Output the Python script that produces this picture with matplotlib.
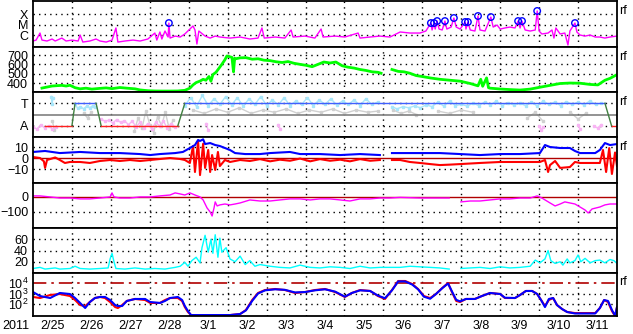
import matplotlib
matplotlib.use('Agg')
import matplotlib.pyplot as plt
import numpy as np

plt.rcParams['font.family'] = ['Liberation Sans', 'DejaVu Sans']
plt.rcParams['mathtext.default'] = 'regular'

# time axis: days since 2011-02-25 00:00 UT
day_labels = ['2/25', '2/26', '2/27', '2/28', '3/1', '3/2', '3/3', '3/4',
              '3/5', '3/6', '3/7', '3/8', '3/9', '3/10', '3/11']

# GOES X-ray flux (log10 W/m2)
xray_t = [0.00, 0.08, 0.18, 0.23, 0.36, 0.49, 0.57, 0.74, 0.85, 1.00, 1.16, 1.21, 1.28,
          1.46, 1.62, 1.72, 1.88, 2.03, 2.13, 2.18, 2.36, 2.57, 2.75, 2.95, 3.13, 3.18,
          3.26, 3.31, 3.39, 3.47, 3.49, 3.52, 3.65, 3.78, 3.90, 4.03, 4.11, 4.16, 4.21,
          4.26, 4.42, 4.55, 4.68, 4.80, 5.06, 5.32, 5.57, 5.78, 5.88, 5.94, 6.22, 6.47,
          6.63, 6.68, 6.99, 7.24, 7.40, 7.45, 7.76, 8.01, 8.35, 8.40, 8.66, 8.91, 9.17,
          9.43, 9.68, 9.94, 10.09, 10.22, 10.25, 10.30, 10.33, 10.38, 10.43, 10.51,
          10.58, 10.63, 10.74, 10.81, 10.87, 10.97, 11.10, 11.12, 11.17, 11.23, 11.35,
          11.43, 11.48, 11.61, 11.76, 11.82, 11.92, 12.00, 12.12, 12.25, 12.38, 12.46,
          12.51, 12.56, 12.64, 12.77, 12.90, 12.95, 13.00, 13.07, 13.23, 13.33, 13.38,
          13.43, 13.54, 13.66, 13.74, 13.79, 13.92, 13.97, 14.05, 14.18, 14.31, 14.44,
          14.56, 14.69, 14.82, 15.00]
xray_v = [-6.57, -6.48, -5.81, -6.48, -6.57, -6.38, -6.57, -6.29, -6.57, -6.48, -6.57, -6.00, -6.67,
          -6.57, -6.38, -6.57, -6.67, -6.48, -5.33, -6.67, -6.57, -6.48, -6.57, -6.38, -5.81, -6.48,
          -5.71, -6.38, -5.62, -6.19, -4.86, -6.29, -6.10, -6.19, -5.90, -5.43, -5.14, -5.52, -6.86,
          -5.62, -6.10, -6.29, -6.10, -6.19, -6.29, -6.19, -6.38, -6.29, -5.33, -6.29, -6.19, -6.29,
          -5.52, -6.19, -6.10, -6.29, -5.43, -6.19, -6.10, -6.19, -5.81, -6.29, -6.19, -6.10, -6.19,
          -5.71, -5.81, -5.81, -5.62, -4.86, -5.52, -4.86, -5.43, -4.67, -5.43, -5.52,
          -4.67, -5.43, -5.24, -4.38, -5.24, -5.43, -4.76, -5.43, -4.76, -5.52, -5.62,
          -4.19, -5.52, -5.62, -4.29, -5.24, -5.05, -5.43, -5.33, -5.24, -5.33, -4.67,
          -5.33, -4.67, -5.52, -5.62, -5.52, -3.71, -5.62, -5.90, -5.81, -5.52, -6.29,
          -5.33, -5.90, -5.81, -6.95, -5.62, -4.86, -5.71, -6.00, -6.10, -6.00, -6.19,
          -6.19, -6.29, -6.19, -6.10]

# flares >= M1 (circles)
flare_t = [3.49, 10.22, 10.30, 10.38, 10.58, 10.81, 11.10, 11.17, 11.43, 11.76, 12.46, 12.56, 12.95, 13.92]
flare_v = [-4.86, -4.86, -4.86, -4.67, -4.67, -4.38, -4.76, -4.76, -4.19, -4.29, -4.67, -4.67, -3.71, -4.86]

# solar wind speed (km/s)
vsw_t = [0.23, 0.36, 0.49, 0.62, 0.74, 0.85, 0.95, 1.08, 1.21, 1.36, 1.51, 1.72, 1.88, 2.03,
         2.23, 2.41, 2.62, 2.75, 2.95, 3.13, 3.31, 3.52, 3.72, 3.90, 4.03, 4.11, 4.19, 4.29,
         4.37, 4.44, 4.52, 4.57, 4.62, 4.70, 4.78, 4.85, 4.93, 4.98, 5.11, 5.15, 5.18, 5.21,
         5.32, 5.47, 5.63, 5.78, 5.93, 6.09, 6.24, 6.40, 6.55, 6.70, 6.86, 7.01, 7.17, 7.32,
         7.47, 7.63, 7.78, 7.94, 8.09, 8.25, 8.40, 8.55, 8.71, 8.86, 8.94, 9.00, 9.22, 9.38,
         9.53, 9.68, 9.84, 9.99, 10.20, 10.45, 10.71, 10.97, 11.23, 11.43, 11.50, 11.55,
         11.65, 11.70, 11.74, 12.00, 12.25, 12.51, 12.77, 13.02, 13.28, 13.54, 13.79, 14.05,
         14.31, 14.51, 14.69, 14.82, 15.00]
vsw_v = [346, 357, 368, 372, 375, 368, 376, 350, 338, 345, 335, 343, 348, 340,
         352, 345, 338, 326, 318, 315, 314, 314, 315, 322, 345, 380, 405, 421,
         440, 430, 470, 420, 490, 515, 560, 600, 650, 690, 675, 520, 665, 660,
         670, 672, 655, 660, 645, 640, 628, 620, 630, 612, 600, 590, 575, 600,
         625, 615, 625, 585, 570, 560, 545, 535, 520, 515, 505, np.nan, 545, 525,
         520, 505, 480, 470, 455, 440, 430, 420, 395, 370, 440, 365,
         455, 350, 345, 336, 330, 325, 335, 355, 375, 395, 400, 398,
         385, 380, 430, 450, 490]

# IMF sector (T = +1, A = -1)
sector_t = [0.31, 1.00, 1.08, 1.62, 1.75, 3.72, 3.90, 14.69, 14.86, 15.00]
sector_v = [-1, -1, 1, 1, -1, -1, 1, 1, -1, -1]
phi_t_blue = [0.47, 0.49, 0.51, np.nan, 1.08, 1.15, 1.22, 1.30, 1.38, 1.46, 1.54, 1.60, np.nan,
              3.90, 4.05, 4.20, 4.35, 4.50, 4.65, 4.80, 4.95, 5.10, 5.25, 5.40, 5.55, 5.70,
              5.85, 6.00, 6.15, 6.30, 6.45, 6.60, 6.75, 6.90, 7.05, 7.20, 7.35, 7.50, 7.65,
              7.80, 7.95, 8.10, 8.25, 8.40, 8.55, 8.70, 8.85, np.nan, 9.22, 9.35, 9.50, 9.65,
              9.80, 9.95, 10.10, 10.25, 10.40, 10.55, 10.70, 10.85, 11.00, 11.15, 11.30, 11.45,
              11.60, 11.75, 11.90, 12.05, 12.20, 12.35, 12.50, 12.65, 12.80, 12.95, 13.10,
              13.25, 13.40, 13.55, 13.70, 13.85, 14.00, 14.15, 14.30, 14.45, 14.60]
phi_v_blue = [1.6, 0.9, 1.5, np.nan, 0.9, 0.55, 0.7, 0.5, 0.75, 0.6, 0.8, 0.65, np.nan,
              0.8, 1.5, 0.7, 1.7, 0.8, 1.4, 0.9, 1.6, 0.85, 1.5, 0.75, 1.4, 0.9,
              1.6, 0.8, 1.3, 0.85, 1.5, 0.8, 1.2, 0.9, 1.5, 0.8, 1.3, 0.9, 1.4,
              0.85, 1.2, 0.9, 1.3, 0.8, 1.4, 0.9, 1.1, np.nan, 0.7, 0.5, 0.7, 0.6,
              0.75, 0.6, 0.85, 0.7, 1.1, 0.75, 1.2, 0.8, 0.9, 0.75, 1.0, 0.8,
              1.1, 0.85, 1.2, 0.8, 1.05, 0.85, 1.0, 0.8, 1.1, 0.75, 1.2,
              0.9, 1.1, 0.8, 1.15, 0.9, 1.1, 0.85, 1.2, 0.9, 1.0]
phi_t_pink = [0.00, 0.10, 0.20, 0.30, 0.40, 0.50, 0.60, np.nan, 1.75, 1.85, 1.95, 2.05, 2.15,
              2.25, 2.35, 2.45, 2.55, 2.65, 2.75, 2.85, 2.95, 3.05, 3.15, 3.25, 3.35, 3.45,
              3.55, 3.65, np.nan, 4.45, 4.50, np.nan, 6.30, 6.35, np.nan, 13.00, 13.05, 13.10,
              np.nan, 14.00, 14.05, np.nan, 14.40, 14.50, 14.60]
phi_v_pink = [-1.1, -1.3, -0.9, -1.2, -1.0, -1.3, -1.1, np.nan, -0.4, -0.6, -0.5, -0.75, -0.45,
              -0.7, -0.55, -0.9, -0.6, -1.1, -0.7, -1.2, -0.8, -1.3, -0.7, -1.0, -0.6, -1.2,
              -0.8, -1.1, np.nan, -0.8, -1.4, np.nan, -0.9, -1.3, np.nan, -1.0, -1.4, -1.1,
              np.nan, -0.9, -1.3, np.nan, -1.0, -1.2, -0.9]
phi_t_gray = [0.50, 0.55, np.nan, 1.30, 1.40, 1.50, np.nan, 2.60, 2.70, 2.80, 2.90, 3.00, 3.10,
              3.20, 3.30, 3.40, 3.50, 3.60, np.nan, 4.10, 4.40, 4.70, 5.00, 5.30, 5.60, 5.90,
              6.20, 6.50, 6.80, 7.10, 7.40, 7.70, 8.00, 8.30, 8.60, 8.85, np.nan, 9.25, 9.45,
              9.65, 9.85, np.nan, 10.40, 10.70, 11.00, 11.30, np.nan, 12.70, 12.90, 13.10,
              np.nan, 13.80, 14.00, 14.20]
phi_v_gray = [-0.6, -1.4, np.nan, 0.1, -0.3, 0.2, np.nan, -1.5, -0.3, -1.2, 0.3, -0.9, -1.6,
              -0.2, -1.0, 0.2, -1.3, -0.5, np.nan, 0.4, 0.1, 0.5, 0.2, 0.6, 0.1, 0.4,
              0.2, 0.5, 0.1, 0.4, 0.2, 0.5, 0.1, 0.4, 0.2, 0.3, np.nan, 0.4, 0.1,
              0.3, 0.0, np.nan, 0.3, 0.1, 0.4, 0.2, np.nan, -0.3, 0.2, -0.6,
              np.nan, 0.2, -0.4, 0.1]

# IMF Bt (blue) and Bz (red), nT
bt_t = [0.00, 0.31, 0.69, 1.21, 1.72, 2.23, 2.75, 3.01, 3.26, 3.65, 3.85, 4.03, 4.16, 4.24,
        4.29, 4.37, 4.42, 4.55, 4.68, 4.80, 4.93, 5.06, 5.19, 5.45, 5.83, 6.09, 6.60, 6.86,
        7.37, 7.89, 8.40, 8.91, 9.00, 9.22, 9.43, 9.94, 10.45, 10.97, 11.48, 12.00, 12.51,
        13.02, 13.15, 13.28, 13.54, 13.79, 13.92, 14.05, 14.44, 14.56, 14.69, 14.82, 15.00]
bt_v = [5.5, 6.4, 4.5, 5.5, 4.5, 4.5, 3.6, 2.7, 3.6, 4.5, 5.5, 9.1, 11.8, 16.4,
        15.5, 17.0, 12.7, 13.6, 11.8, 10.9, 9.1, 7.3, 4.5, 3.6, 3.6, 4.5, 5.5, 3.6,
        3.6, 2.7, 3.6, 2.7, np.nan, 4.5, 4.5, 4.5, 4.5, 3.6, 2.7, 3.6, 3.6,
        4.5, 11.8, 10.0, 9.1, 9.1, 6.4, 4.5, 4.5, 7.3, 13.6, 11.8, 12.7]
bz_t = [0.00, 0.18, 0.28, 0.31, 0.36, 0.57, 0.69, 0.82, 0.95, 1.21, 1.46, 1.72, 1.98, 2.23,
        2.49, 2.75, 3.01, 3.26, 3.52, 3.78, 3.90, 4.03, 4.11, 4.16, 4.24, 4.29, 4.37, 4.42,
        4.50, 4.55, 4.60, 4.68, 4.75, 4.80, 4.93, 5.06, 5.32, 5.57, 5.83, 6.09, 6.34, 6.60,
        6.86, 7.12, 7.37, 7.63, 7.89, 8.14, 8.40, 8.66, 8.91, 9.00, 9.22, 9.43, 9.68, 9.94,
        10.20, 10.45, 10.71, 10.97, 11.48, 12.00, 12.51, 13.02, 13.15, 13.23, 13.28, 13.41,
        13.54, 13.79, 13.92, 14.05, 14.56, 14.64, 14.72, 14.80, 14.87, 14.95, 15.00]
bz_v = [0.9, 0.0, -3.0, -9.0, -1.8, 0.5, -1.8, -4.5, -3.6, -3.6, -4.5, -2.7, -1.8, -2.7,
        -1.8, -2.7, -1.8, -0.9, 0.0, -0.9, -1.8, -4.5, 10.9, -12.7, 15.5, -15.5, 13.0, -9.0,
        7.3, -12.7, 2.7, -10.9, 5.5, -7.3, -1.8, -3.6, -1.8, -2.7, -1.0, -3.0, -1.5, -2.5,
        -0.5, -3.0, -1.0, -2.5, -1.5, -3.0, -1.0, -2.5, -1.8, np.nan, -1.8, -1.8, -3.6, -4.5,
        -5.5, -6.4, -6.0, -5.5, -4.5, -3.6, -3.6, -3.6, -1.8, -12.7, -6.4, -2.7,
        -9.0, -8.2, -3.6, -4.5, -4.5, 7.3, -12.7, 9.0, -14.5, 5.0, -7.3]

# Dst index (nT)
dst_t = [0.00, 0.18, 0.44, 0.69, 0.95, 1.21, 1.46, 1.72, 1.98, 2.03, 2.08, 2.23, 2.49, 2.75,
         3.01, 3.26, 3.52, 3.65, 3.78, 3.90, 4.03, 4.16, 4.29, 4.37, 4.47, 4.55, 4.60, 4.65,
         4.68, 4.73, 4.80, 4.93, 5.06, 5.19, 5.32, 5.57, 5.83, 6.09, 6.34, 6.60, 6.86, 7.12,
         7.37, 7.63, 7.89, 8.14, 8.40, 8.66, 8.91, 9.17, 9.43, 9.94, 10.45, 10.69, 10.80,
         10.99, 11.23, 11.48, 11.74, 12.00, 12.25, 12.51, 12.77, 12.95, 13.07, 13.28, 13.41,
         13.54, 13.66, 13.79, 13.92, 14.05, 14.18, 14.26, 14.36, 14.56, 14.69, 14.82, 15.00]
dst_v = [7, 7, 0, -7, -7, -13, -13, -7, 0, 27, 0, -7, -7, 0,
         0, 7, 13, 27, 20, 13, 27, 13, 0, -20, -73, -100, -127, -73,
         -33, -60, -53, -47, -53, -47, -40, -20, -27, -27, -20, -13, -13, -20,
         -13, -13, -20, -27, -13, -13, -7, -7, -3, -7, -7, -7, np.nan,
         -33, -27, -27, -20, -13, -13, -7, -7, 7, -7, -40, -60,
         -47, -33, -40, -47, -67, -87, -107, -80, -67, -53, -47, -47]

# cyan panel (0-80)
cy_t = [0.00, 0.18, 0.31, 0.57, 0.69, 0.95, 1.08, 1.21, 1.46, 1.72, 1.93, 1.98, 2.03, 2.08,
        2.13, 2.36, 2.62, 2.88, 3.13, 3.39, 3.65, 3.78, 3.90, 3.98, 4.08, 4.19, 4.29, 4.34,
        4.42, 4.50, 4.57, 4.62, 4.68, 4.75, 4.80, 4.85, 4.96, 5.06, 5.19, 5.32, 5.45, 5.57,
        5.70, 5.83, 6.09, 6.34, 6.60, 6.86, 7.12, 7.37, 7.63, 7.89, 8.14, 8.40, 8.66, 8.91,
        9.43, 9.68, 9.94, 10.20, 10.45, 10.69, 10.80, 10.99, 11.23, 11.48, 11.74, 12.00,
        12.25, 12.51, 12.77, 12.90, 13.02, 13.15, 13.23, 13.30, 13.41, 13.54, 13.61, 13.72,
        13.79, 13.92, 14.00, 14.07, 14.18, 14.31, 14.44, 14.56, 14.69, 14.82, 14.92, 15.00]
cy_v = [8, 10, 7, 9, 7, 8, 12, 8, 7, 8, 9, 25, 35, 20,
        8, 7, 9, 7, 8, 7, 10, 12, 19, 12, 22, 28, 18, 45,
        67, 37, 60, 35, 68, 28, 62, 37, 45, 25, 20, 30, 15, 22,
        12, 15, 12, 10, 9, 14, 10, 9, 11, 10, 8, 12, 9, 10,
        10, 12, 11, 10, 9, 7, np.nan, 8, 9, 10, 8, 11,
        9, 10, 12, 23, 18, 25, 40, 22, 17, 20, 14, 25,
        18, 22, 32, 20, 26, 18, 22, 23, 18, 24, 22, 17]

# electron flux (log10), two satellites
el_t = [0.00, 0.18, 0.44, 0.69, 0.95, 1.08, 1.21, 1.34, 1.46, 1.59, 1.72, 1.85, 1.98, 2.11,
        2.18, 2.29, 2.41, 2.62, 2.88, 3.01, 3.26, 3.39, 3.52, 3.72, 3.83, 3.90, 3.98, 4.06,
        4.29, 4.80, 5.06, 5.32, 5.47, 5.63, 5.78, 5.96, 6.22, 6.47, 6.73, 6.99, 7.24, 7.50,
        7.76, 8.01, 8.19, 8.40, 8.66, 8.86, 9.04, 9.22, 9.38, 9.56, 9.74, 9.89, 10.04, 10.20,
        10.35, 10.51, 10.66, 10.76, 10.87, 10.97, 11.12, 11.35, 11.53, 11.74, 12.00, 12.12,
        12.38, 12.51, 12.66, 12.82, 12.95, 13.05, 13.15, 13.25, 13.36, 13.46, 13.59, 13.72,
        13.92, 14.18, 14.44, 14.56, 14.67, 14.77, 14.87, 14.95, 15.00]
el_red = [2.67, 2.57, 2.86, 2.95, 2.76, 2.38, 1.90, 1.81, 2.19, 2.57, 2.67, 2.57, 2.19, 1.71,
          1.62, 1.90, 2.29, 2.48, 2.38, 2.10, 2.10, 2.38, 2.57, 2.57, 2.29, 1.71, 1.24, 0.95,
          0.90, 0.90, 0.95, 1.05, 1.43, 2.38, 3.05, 3.33, 3.43, 3.33, 3.05, 3.14, 3.33, 3.43,
          3.14, 2.67, 3.05, 3.33, 3.24, 2.76, 2.48, 3.33, 4.19, 4.19, 3.90, 3.43, 2.76, 2.57,
          2.95, 3.52, 4.00, 3.14, 2.29, 2.19, 2.48, 2.48, 2.76, 3.05, 2.95, 2.57,
          2.57, 2.86, 3.24, 3.24, 2.95, 2.38, 1.81, 2.38, 2.57, 1.90, 1.52, 1.24,
          1.14, 1.14, 1.14, 1.62, 2.38, 2.19, 1.33, 0.86, 1.71]
el_blue = [3.14, 2.76, 2.57, 3.05, 2.95, 2.57, 2.10, 1.62, 2.19, 2.57, 2.67, 2.67, 2.38, 1.90,
           1.81, 1.81, 2.29, 2.48, 2.48, 2.19, 2.10, 2.29, 2.57, 2.67, 2.38, 1.81, 1.33, 0.95,
           0.95, 0.95, 0.95, 1.05, 1.40, 2.30, 3.00, 3.30, 3.40, 3.35, 3.10, 3.14, 3.30, 3.40,
           3.18, 2.70, 3.05, 3.30, 3.24, 2.80, 2.55, 3.30, 4.15, 4.15, 3.85, 3.40, 2.70, 2.50,
           2.95, 3.50, 3.95, 3.20, 2.40, 2.25, 2.48, 2.48, 2.76, 3.05, 2.95, 2.60,
           2.57, 2.86, 3.24, 3.24, 2.95, 2.38, 1.71, 2.48, 2.57, 1.90, 1.52, 1.24,
           1.10, 1.10, 1.10, 1.62, 2.38, 2.29, 1.43, 0.90, 1.71]

W, H = 633, 334
FS = 9
fig = plt.figure(figsize=(W / 100, H / 100), dpi=100)
edges = [1, 47, 92, 137, 183, 228, 273, 316]
axes = []
for i in range(7):
    ax = fig.add_axes([33 / W, 1 - edges[i + 1] / H, 584 / W, (edges[i + 1] - edges[i]) / H])
    ax.set_xlim(0, 15)
    for s in ax.spines.values():
        s.set_linewidth(1.3)
    ax.tick_params(length=0, labelsize=FS, pad=3.5)
    for d in range(1, 15):
        ax.axvline(d, color='black', lw=1, ls=(0, (1, 3)), zorder=0)
    ax.set_xticks([])
    axes.append(ax)

dot = dict(color='black', lw=1, ls=(0, (1, 3)), zorder=0)
dred = '#b00000'

# 1. X-ray
ax = axes[0]
ax.plot(xray_t, xray_v, color='#ff00ff', lw=1)
ax.scatter(flare_t, flare_v, s=22, facecolors='none', edgecolors='#0000ff', lw=1, zorder=5)
ax.set_ylim(-7.14, -2.76)
ax.set_yticks([-6, -5, -4], ['C', 'M', 'X'])
for v in [-6, -5, -4]:
    ax.axhline(v, **dot)

# 2. solar wind speed
ax = axes[1]
ax.plot(vsw_t, vsw_v, color='#00ff00', lw=2)
ax.set_ylim(304, 786)
ax.set_yticks([400, 500, 600, 700])
for v in [400, 500, 600, 700]:
    ax.axhline(v, **dot)

# 3. IMF sector
ax = axes[2]
ax.plot(phi_t_gray, phi_v_gray, color='#d0d0d0', lw=1, marker='s', ms=1.5)
ax.axhline(0, color='#808080', lw=1.2)
ax.plot(phi_t_blue, phi_v_blue, color='#a8e6fa', lw=1, marker='s', ms=2)
ax.plot(phi_t_pink, phi_v_pink, color='#f8b4f4', lw=1, marker='s', ms=2)
seg_col = ['#ff2020', '#408040', '#4060ff', '#408040', '#ff2020', '#408040', '#4060ff', '#408040', '#ff2020']
for k in range(len(sector_t) - 1):
    ax.plot(sector_t[k:k + 2], sector_v[k:k + 2], color=seg_col[k], lw=1)
ax.set_ylim(-2, 2)
ax.set_yticks([1, -1], ['T', 'A'])
for v in [1, -1]:
    ax.axhline(v, **dot)

# 4. Bt / Bz
ax = axes[3]
ax.axhline(0, color=dred, lw=1)
ax.plot(bz_t, bz_v, color='#ff0000', lw=1.5)
ax.plot(bt_t, bt_v, color='#0000ff', lw=1.5)
ax.set_ylim(-22.7, 19.1)
ax.set_yticks([10, 0, -10])
for v in [10, -10]:
    ax.axhline(v, **dot)

# 5. Dst
ax = axes[4]
ax.axhline(0, color=dred, lw=1)
ax.plot(dst_t, dst_v, color='#ff00ff', lw=1)
ax.set_ylim(-207, 93)
ax.set_yticks([0, -100])
ax.axhline(-100, **dot)

# 6. cyan
ax = axes[5]
ax.plot(cy_t, cy_v, color='#00ffff', lw=1)
ax.set_ylim(0, 80)
ax.set_yticks([20, 40, 60])
for v in [20, 40, 60]:
    ax.axhline(v, **dot)

# 7. electrons
ax = axes[6]
ax.axhline(4, color=dred, lw=1.2, ls=(0, (8, 3, 1.5, 3)))
ax.plot(el_t, el_red, color='#ff0000', lw=1.5)
ax.plot(el_t, el_blue, color='#0000ff', lw=1.5)
ax.set_ylim(0.86, 4.95)
ax.set_yticks([4, 3, 2], ['$10^4$', '$10^3$', '$10^2$'])
for v in [3, 2]:
    ax.axhline(v, **dot)
ax.set_xticks(np.arange(15) + 0.5, day_labels)
ax.tick_params(axis='x', length=0, labelsize=FS, pad=3)

for i in [0, 1, 2, 3, 6]:
    axes[i].text(1.004, 0.78, 'rf', transform=axes[i].transAxes, fontsize=FS, va='center')

fig.text(16 / W, 1 - 326 / H, '2011', ha='center', va='center', fontsize=FS)

fig.savefig('out.png', dpi=100)
